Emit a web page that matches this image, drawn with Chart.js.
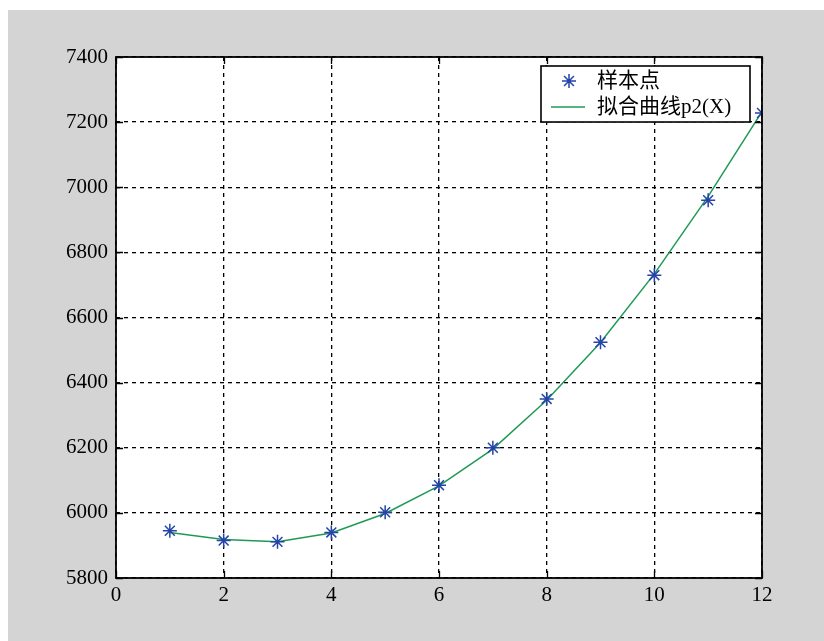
<!DOCTYPE html>
<html lang="zh">
<head>
    <meta charset="UTF-8">
    <title>拟合曲线 p2(X)</title>
    <script src="https://cdn.jsdelivr.net/npm/chart.js"></script>
    <style>
        html, body {
            margin: 0;
            padding: 0;
            background-color: #ffffff;
        }
        .wrap {
            position: relative;
            width: 824px;
            height: 641px;
        }
    </style>
</head>
<body>
    <div class="wrap">
        <canvas id="fitChart" width="824" height="641"></canvas>
    </div>

    <script>
        // 样本点
        const xValues = [1, 2, 3, 4, 5, 6, 7, 8, 9, 10, 11, 12];
        const sampleValues = [5945, 5915, 5911, 5940, 6002, 6085, 6200, 6350, 6524, 6730, 6960, 7228];
        // 拟合曲线 p2(X)
        const fitValues = [5940, 5918, 5911, 5938, 5998, 6083, 6196, 6346, 6523, 6734, 6972, 7232];
        // 刻度
        const xTicks = [0, 2, 4, 6, 8, 10, 12];
        const yTicks = [5800, 6000, 6200, 6400, 6600, 6800, 7000, 7200, 7400];
        const legendLabels = ['样本点', '拟合曲线p2(X)'];

        const blue = '#2444a8';
        const green = '#1f9a56';
        const serif = '"Liberation Serif", "Noto Sans CJK SC", serif';

        // 背景、边框、向内刻度和图例
        const matlabLook = {
            id: 'matlabLook',
            beforeDraw(chart) {
                const ctx = chart.ctx;
                const a = chart.chartArea;
                ctx.save();
                ctx.fillStyle = '#ffffff';
                ctx.fillRect(0, 0, chart.width, chart.height);
                ctx.fillStyle = '#d4d4d4';
                ctx.fillRect(8, 10, chart.width - 8, chart.height - 10);
                ctx.fillStyle = '#ffffff';
                ctx.fillRect(a.left, a.top, a.right - a.left, a.bottom - a.top);
                ctx.restore();
            },
            afterDraw(chart) {
                const ctx = chart.ctx;
                const a = chart.chartArea;
                const xs = chart.scales.x;
                const ys = chart.scales.y;
                ctx.save();
                ctx.strokeStyle = '#000000';
                ctx.lineWidth = 1.3;
                ctx.beginPath();
                xTicks.forEach(function (t) {
                    const px = Math.round(xs.getPixelForValue(t)) + 0.5;
                    ctx.moveTo(px, a.bottom);
                    ctx.lineTo(px, a.bottom - 7);
                    ctx.moveTo(px, a.top);
                    ctx.lineTo(px, a.top + 7);
                });
                yTicks.forEach(function (t) {
                    const py = Math.round(ys.getPixelForValue(t)) + 0.5;
                    ctx.moveTo(a.left, py);
                    ctx.lineTo(a.left + 7, py);
                    ctx.moveTo(a.right, py);
                    ctx.lineTo(a.right - 7, py);
                });
                ctx.stroke();

                ctx.lineWidth = 1.8;
                ctx.strokeRect(a.left, a.top, a.right - a.left, a.bottom - a.top);

                // 图例
                const lx = 541, ly = 66, lw = 209, lh = 56;
                ctx.fillStyle = '#ffffff';
                ctx.fillRect(lx, ly, lw, lh);
                ctx.strokeStyle = '#000000';
                ctx.lineWidth = 1.6;
                ctx.strokeRect(lx, ly, lw, lh);

                ctx.strokeStyle = blue;
                ctx.fillStyle = blue;
                ctx.lineWidth = 1.5;
                Chart.helpers.drawPoint(ctx, {
                    pointStyle: 'star', radius: 7, rotation: 0, borderWidth: 1.5
                }, 569, 81);

                ctx.strokeStyle = green;
                ctx.lineWidth = 1.5;
                ctx.beginPath();
                ctx.moveTo(551, 107);
                ctx.lineTo(585, 107);
                ctx.stroke();

                ctx.fillStyle = '#000000';
                ctx.font = '21px ' + serif;
                ctx.textBaseline = 'middle';
                ctx.textAlign = 'left';
                ctx.fillText(legendLabels[0], 597, 81);
                ctx.fillText(legendLabels[1], 597, 107);
                ctx.restore();
            }
        };

        const ctx = document.getElementById('fitChart').getContext('2d');
        const fitChart = new Chart(ctx, {
            type: 'line',
            data: {
                datasets: [{
                    label: legendLabels[0],
                    data: xValues.map(function (x, i) { return { x: x, y: sampleValues[i] }; }),
                    showLine: false,
                    pointStyle: 'star',
                    pointRadius: 7,
                    pointBorderWidth: 1.5,
                    pointBorderColor: blue,
                    pointBackgroundColor: blue,
                    order: 1
                }, {
                    label: legendLabels[1],
                    data: xValues.map(function (x, i) { return { x: x, y: fitValues[i] }; }),
                    borderColor: green,
                    borderWidth: 1.5,
                    pointRadius: 0,
                    tension: 0,
                    order: 2
                }]
            },
            options: {
                responsive: false,
                animation: false,
                layout: {
                    padding: { left: 0, top: 57, right: 62, bottom: 0 }
                },
                plugins: {
                    legend: { display: false },
                    tooltip: { enabled: false }
                },
                scales: {
                    x: {
                        type: 'linear',
                        min: 0,
                        max: 12,
                        afterBuildTicks: function (scale) {
                            scale.ticks = xTicks.map(function (v) { return { value: v }; });
                        },
                        afterFit: function (scale) { scale.height = 63; },
                        grid: {
                            color: '#000000',
                            lineWidth: 1.3,
                            drawTicks: false
                        },
                        border: { display: false, dash: [4, 4] },
                        ticks: {
                            color: '#000000',
                            padding: 5,
                            maxRotation: 0,
                            font: { family: serif, size: 21 },
                            callback: function (v) { return String(v); }
                        }
                    },
                    y: {
                        type: 'linear',
                        min: 5800,
                        max: 7400,
                        afterBuildTicks: function (scale) {
                            scale.ticks = yTicks.map(function (v) { return { value: v }; });
                        },
                        afterFit: function (scale) { scale.width = 116; },
                        grid: {
                            color: '#000000',
                            lineWidth: 1.3,
                            drawTicks: false
                        },
                        border: { display: false, dash: [4, 4] },
                        ticks: {
                            color: '#000000',
                            padding: 8,
                            font: { family: serif, size: 21 },
                            callback: function (v) { return String(v); }
                        }
                    }
                }
            },
            plugins: [matlabLook]
        });
    </script>
</body>
</html>
